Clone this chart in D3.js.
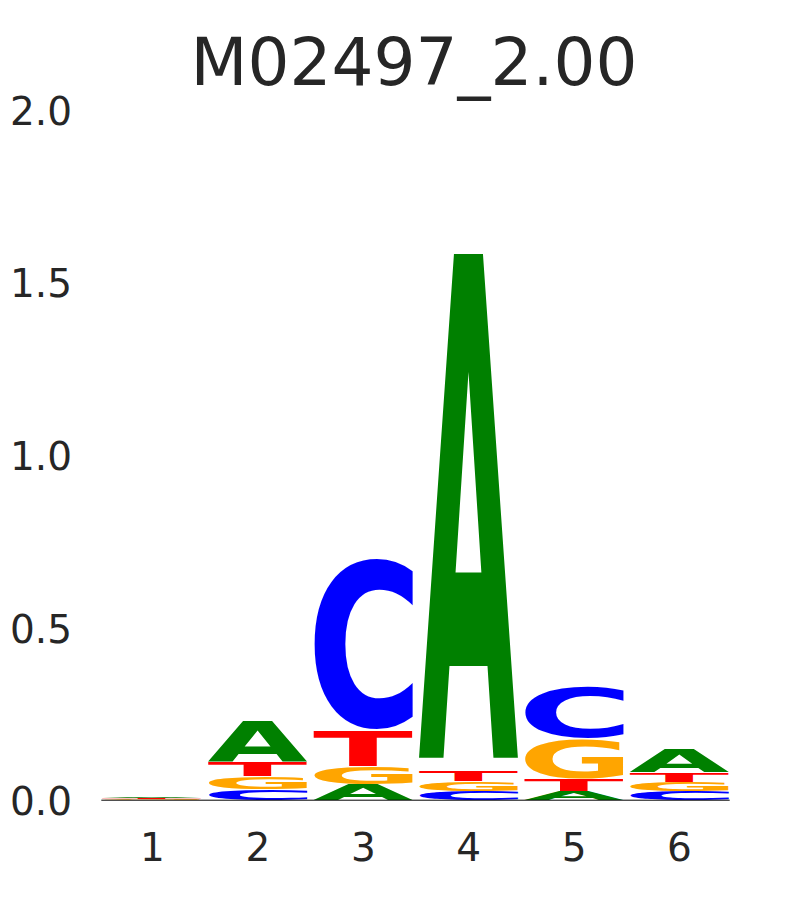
<!DOCTYPE html>
<html><head><meta charset="utf-8">
<script src="https://cdn.jsdelivr.net/npm/d3@7"></script>
<style>body{margin:0;background:#fff}</style>
</head><body>
<svg id="chart" width="810" height="900"></svg>
<script>
const title = "M02497_2.00";
const positions = [1, 2, 3, 4, 5, 6];
const letters = ["A", "C", "G", "T"];
const valA = [0.0035, 0.121, 0.047, 1.512, 0.0275, 0.0715];
const valC = [0.0015, 0.033, 0.506, 0.027, 0.151, 0.0255];
const valG = [0.002, 0.037, 0.0507, 0.029, 0.116, 0.026];
const valT = [0.003, 0.041, 0.106, 0.032, 0.035, 0.028];
const yTicks = [0.0, 0.5, 1.0, 1.5, 2.0];
const colors = {A: "#008000", C: "#0000ff", G: "#ffa500", T: "#ff0000"};

const series = {A: valA, C: valC, G: valG, T: valT};
const svg = d3.select("#chart");
const x = d3.scaleLinear().domain([0.5, 6.5]).range([99.3, 731.7]);
const y = d3.scaleLinear().domain([0, 2]).range([800.2, 110]);
const step = x(2) - x(1);
const glyphW = step * 0.945;
const vpad = 0.02;

// measure ink bounds of glyphs
const FONT = "bold 100px 'DejaVu Sans'";
const ctx = document.createElement("canvas").getContext("2d");
ctx.font = FONT;
const metrics = {};
letters.forEach(l => {
  const m = ctx.measureText(l);
  metrics[l] = {left: m.actualBoundingBoxLeft, right: m.actualBoundingBoxRight,
                asc: m.actualBoundingBoxAscent, desc: m.actualBoundingBoxDescent};
});

const g = svg.append("g");
positions.forEach((p, i) => {
  const stack = letters.map(l => ({l, v: series[l][i]})).sort((a, b) => a.v - b.v);
  let cum = 0;
  stack.forEach(s => {
    const y0 = y(cum), y1 = y(cum + s.v);
    cum += s.v;
    const boxH = y0 - y1;
    const pad = boxH * vpad / 2;
    const top = y1 + pad, h = Math.max(0.3, boxH - 2 * pad);
    const m = metrics[s.l];
    const sx = glyphW / (m.left + m.right);
    const sy = h / (m.asc + m.desc);
    const x0 = x(p) - glyphW / 2;
    g.append("text")
      .attr("x", 0).attr("y", 0)
      .attr("font-family", "DejaVu Sans").attr("font-weight", "bold").attr("font-size", 100)
      .attr("fill", colors[s.l])
      .attr("transform", `translate(${x0},${top}) scale(${sx},${sy}) translate(${m.left},${m.asc})`)
      .text(s.l);
  });
});

// baseline
svg.append("line")
  .attr("x1", x(0.5) + 2).attr("x2", x(6.5) - 2)
  .attr("y1", y(0)).attr("y2", y(0))
  .attr("stroke", "#000").attr("stroke-width", 1);

// y axis labels
const yAxis = d3.axisLeft(y).tickValues(yTicks).tickFormat(d3.format(".1f")).tickSize(0).tickPadding(0);
const ya = svg.append("g").attr("transform", "translate(72,0)").call(yAxis);
ya.select(".domain").remove();
ya.selectAll("text").attr("font-family", "DejaVu Sans").attr("font-size", 39).attr("fill", "#262626").attr("dy", "0.37em");

// x axis labels
const xAxis = d3.axisBottom(x).tickValues(positions).tickFormat(d3.format("d")).tickSize(0).tickPadding(0);
const xa = svg.append("g").attr("transform", "translate(0,833)").call(xAxis);
xa.select(".domain").remove();
xa.selectAll("text").attr("font-family", "DejaVu Sans").attr("font-size", 39).attr("fill", "#262626");

// title
svg.append("text").attr("x", 414).attr("y", 85).attr("text-anchor", "middle")
  .attr("font-family", "DejaVu Sans").attr("font-size", 66).attr("fill", "#262626")
  .text(title);
</script>
</body></html>
